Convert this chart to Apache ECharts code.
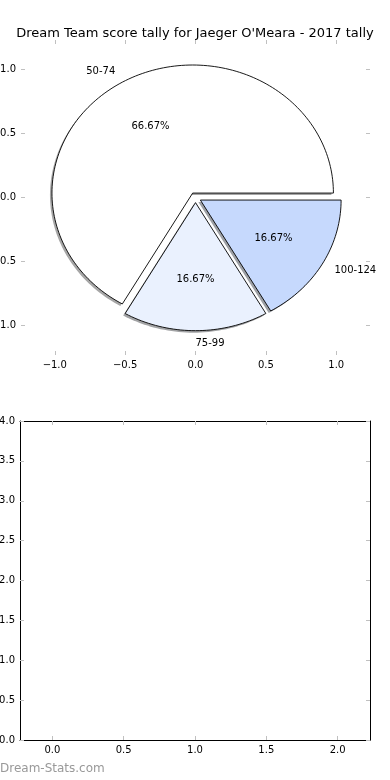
<!DOCTYPE html>
<html>
<head>
<meta charset="utf-8">
<script src="https://cdn.jsdelivr.net/npm/echarts@6/dist/echarts.min.js"></script>
<style>
html,body{margin:0;padding:0;background:#fff;}
#chart{width:390px;height:780px;}
</style>
</head>
<body>
<div id="chart"></div>
<script>
// ---- data ----
const categories = ['50-74', '75-99', '100-124'];
const counts = [4, 1, 1];
const sliceColors = ['#ffffff', '#eaf1fe', '#c6d9fd'];
const explode = [0.04, 0.04, 0.04];
const pieTicks = [-1.0, -0.5, 0.0, 0.5, 1.0];
const emptyXTicks = [0.0, 0.5, 1.0, 1.5, 2.0];
const emptyYTicks = [0.0, 0.5, 1.0, 1.5, 2.0, 2.5, 3.0, 3.5, 4.0];
const titleText = "Dream Team score tally for Jaeger O'Meara - 2017 tally";

const total = counts.reduce((a, b) => a + b, 0);
const fracs = counts.map(c => c / total);
const starts = [];
let acc = 0;
fracs.forEach(f => { starts.push(acc); acc += f; });

function shadowColor(hex) {
  const r = parseInt(hex.slice(1, 3), 16), g = parseInt(hex.slice(3, 5), 16), b = parseInt(hex.slice(5, 7), 16);
  return 'rgba(' + Math.round(r * 0.3) + ',' + Math.round(g * 0.3) + ',' + Math.round(b * 0.3) + ',0.5)';
}

function wedgePoints(api, i, dx, dy) {
  const a0 = starts[i] * 2 * Math.PI;
  const a1 = (starts[i] + fracs[i]) * 2 * Math.PI;
  const am = (a0 + a1) / 2;
  const cx = explode[i] * Math.cos(am), cy = explode[i] * Math.sin(am);
  const pts = [];
  const c = api.coord([cx, cy]);
  pts.push([c[0] + dx, c[1] + dy]);
  const n = Math.max(8, Math.round(fracs[i] * 240));
  for (let k = 0; k <= n; k++) {
    const a = a0 + (a1 - a0) * k / n;
    const p = api.coord([cx + Math.cos(a), cy + Math.sin(a)]);
    pts.push([p[0] + dx, p[1] + dy]);
  }
  return { pts, cx, cy, am };
}

const fontFam = 'DejaVu Sans, sans-serif';
const tickColor = '#c0c0c0';
const fmt = v => (v < 0 ? '\u2212' : '') + Math.abs(v).toFixed(1);

function makeAxis(opts) {
  return Object.assign({
    type: 'value',
    splitLine: { show: false },
    axisLine: { show: false, onZero: false }
  }, opts);
}
function ticks(vals) {
  return { show: true, inside: true, length: 4, lineStyle: { color: tickColor, width: 1 }, customValues: vals };
}
function labels(vals) {
  return { show: true, color: '#000', fontSize: 10, fontFamily: fontFam, margin: 5, customValues: vals, formatter: fmt };
}
const boxLine = { show: true, onZero: false, lineStyle: { color: '#000', width: 1 } };

const chart = echarts.init(document.getElementById('chart'), null, { renderer: 'canvas' });

const option = {
  animation: false,
  backgroundColor: '#fff',
  title: {
    text: titleText, left: 'center', top: 22,
    textStyle: { fontSize: 13, fontWeight: 'normal', fontFamily: fontFam, color: '#000' }
  },
  grid: [
    { left: 21, right: 20, top: 40, bottom: 425, outerBoundsMode: 'none', containLabel: false },
    { left: 20, right: 20, top: 421, bottom: 40, outerBoundsMode: 'none', containLabel: false }
  ],
  xAxis: [
    makeAxis({ gridIndex: 0, position: 'bottom', min: -1.24, max: 1.24, axisTick: ticks(pieTicks), axisLabel: labels(pieTicks) }),
    makeAxis({ gridIndex: 0, position: 'top', min: -1.24, max: 1.24, axisTick: ticks(pieTicks), axisLabel: { show: false } }),
    makeAxis({ gridIndex: 1, position: 'bottom', min: -0.227, max: 2.227, axisLine: boxLine, axisTick: ticks(emptyXTicks), axisLabel: labels(emptyXTicks) }),
    makeAxis({ gridIndex: 1, position: 'top', min: -0.227, max: 2.227, axisLine: boxLine, axisTick: ticks(emptyXTicks), axisLabel: { show: false } })
  ],
  yAxis: [
    makeAxis({ gridIndex: 0, position: 'left', min: -1.23, max: 1.23, axisTick: ticks(pieTicks), axisLabel: labels(pieTicks) }),
    makeAxis({ gridIndex: 0, position: 'right', min: -1.23, max: 1.23, axisTick: ticks(pieTicks), axisLabel: { show: false } }),
    makeAxis({ gridIndex: 1, position: 'left', min: 0, max: 4, axisLine: boxLine, axisTick: ticks(emptyYTicks), axisLabel: labels(emptyYTicks) }),
    makeAxis({ gridIndex: 1, position: 'right', min: 0, max: 4, axisLine: boxLine, axisTick: ticks(emptyYTicks), axisLabel: { show: false } })
  ],
  graphic: [
    { type: 'text', left: 0, top: 763, style: { text: 'Dream-Stats.com', fontSize: 12, fontFamily: fontFam, fill: '#999999' } }
  ],
  series: [
    {
      type: 'custom', name: 'shadow', xAxisIndex: 0, yAxisIndex: 0, z: 1, silent: true,
      data: categories.map((c, i) => i),
      renderItem: function (params, api) {
        const i = params.dataIndex;
        const w = wedgePoints(api, i, -2, 2);
        return { type: 'polygon', shape: { points: w.pts }, style: { fill: shadowColor(sliceColors[i]), stroke: null } };
      }
    },
    {
      type: 'custom', name: 'wedges', xAxisIndex: 0, yAxisIndex: 0, z: 2, silent: true,
      data: categories.map((c, i) => i),
      renderItem: function (params, api) {
        const i = params.dataIndex;
        const w = wedgePoints(api, i, 0, 0);
        const lx = w.cx + 1.1 * Math.cos(w.am), ly = w.cy + 1.1 * Math.sin(w.am);
        const px = w.cx + 0.6 * Math.cos(w.am), py = w.cy + 0.6 * Math.sin(w.am);
        const lp = api.coord([lx, ly]);
        const pp = api.coord([px, py]);
        return {
          type: 'group',
          children: [
            { type: 'polygon', shape: { points: w.pts }, style: { fill: sliceColors[i], stroke: '#000', lineWidth: 0.9 } },
            { type: 'text', x: lp[0], y: lp[1], style: { text: categories[i], fontSize: 10, fontFamily: fontFam, fill: '#000',
              align: lx > -1e-9 ? 'left' : 'right', verticalAlign: 'middle' } },
            { type: 'text', x: pp[0], y: pp[1], style: { text: (fracs[i] * 100).toFixed(2) + '%', fontSize: 10, fontFamily: fontFam, fill: '#000',
              align: 'center', verticalAlign: 'middle' } }
          ]
        };
      }
    },
    { type: 'line', xAxisIndex: 2, yAxisIndex: 2, data: [] }
  ]
};
chart.setOption(option);
</script>
</body>
</html>
